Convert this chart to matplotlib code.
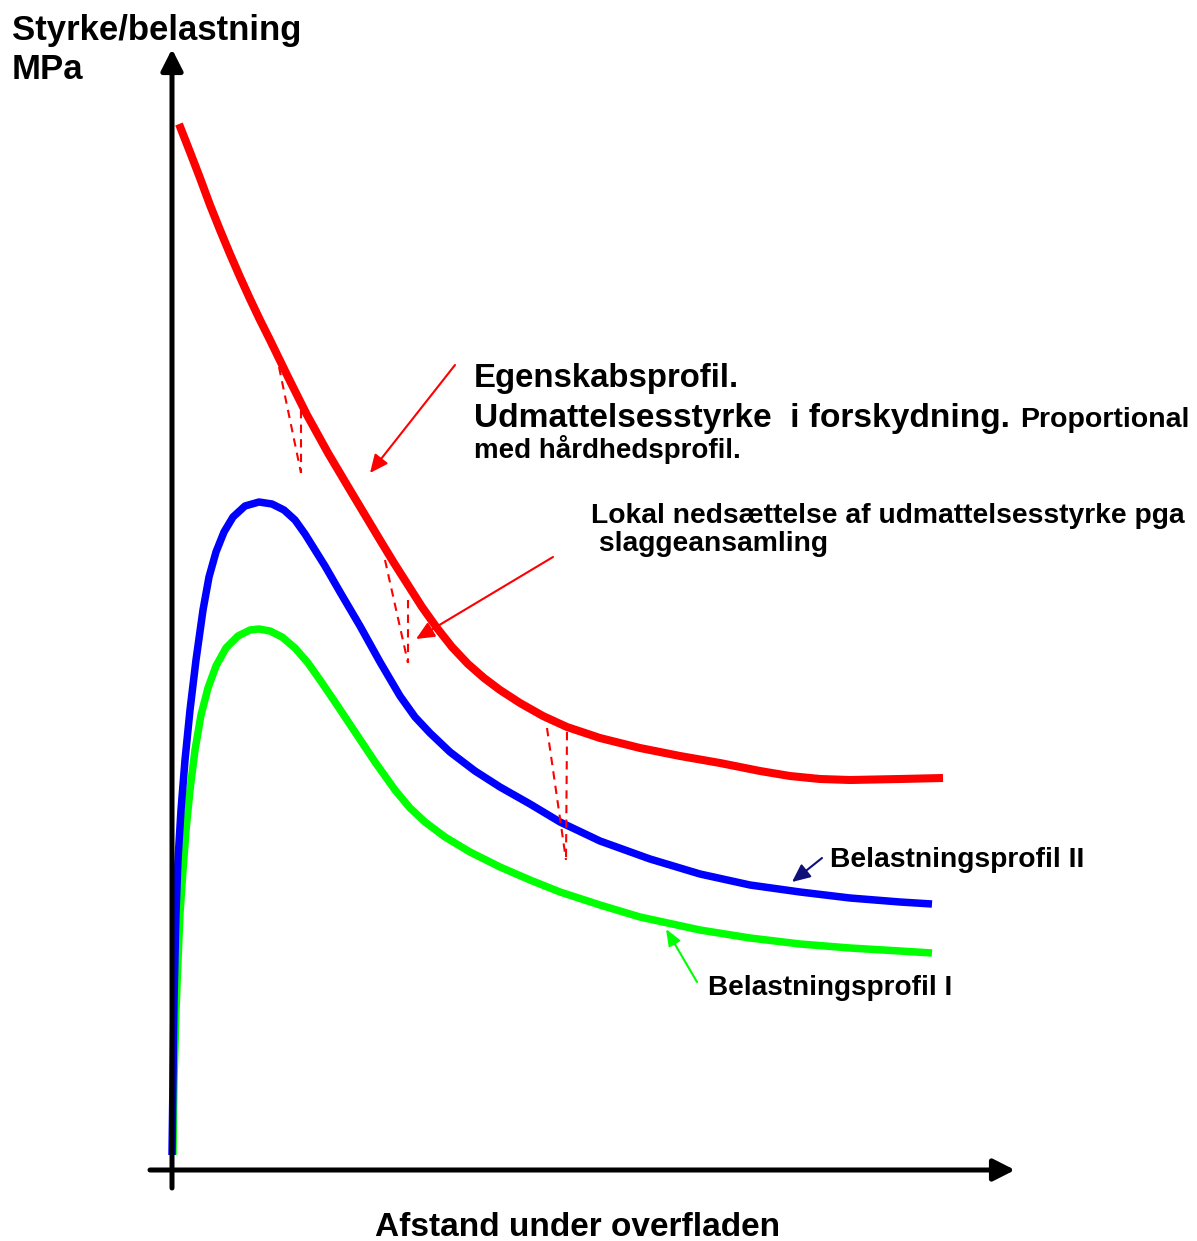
"""Sketch: strength profile vs load profiles below the surface (Danish labels).
Coordinates are read off the reference picture in pixel units (y grows downward)."""
import matplotlib; matplotlib.use("Agg")
import matplotlib.pyplot as plt

# --- curves (x, y in px) ---
red_x = [179, 190, 200, 210, 220, 230, 240, 250, 260, 270, 288, 307, 328, 350, 365, 380,
         394, 408, 422, 437, 452, 468, 484, 500, 520, 543, 567, 600, 640, 680, 720, 760,
         790, 820, 850, 900, 943]
red_y = [124, 152, 178, 205, 230, 254, 277, 299, 320, 340, 377, 415, 453, 490, 515, 540,
         563, 585, 607, 628, 647, 664, 678, 690, 703, 716, 727, 738, 748, 756, 763, 771,
         776, 779, 780, 779, 778]

blue_x = [172, 173, 174, 176, 178, 181, 185, 190, 196, 203, 209, 216, 224, 233, 245, 259,
          272, 284, 295, 305, 315, 325, 340, 360, 380, 400, 415, 430, 450, 475, 500, 530,
          560, 600, 650, 700, 750, 800, 850, 900, 932]
blue_y = [1155, 1080, 1000, 913, 860, 810, 760, 710, 660, 610, 577, 552, 532, 517, 506, 502,
          504, 510, 520, 534, 550, 566, 592, 626, 662, 696, 717, 733, 752, 771, 787, 804,
          822, 841, 859, 874, 885, 892, 898, 902, 904]

green_x = [173, 174, 176, 178, 180, 183, 186, 190, 195, 201, 208, 216, 226, 238, 250, 259,
           270, 282, 295, 308, 320, 335, 355, 375, 395, 410, 425, 445, 470, 500, 530, 560,
           600, 640, 700, 750, 800, 850, 900, 932]
green_y = [1155, 1080, 1010, 960, 913, 870, 830, 790, 750, 715, 688, 666, 648, 636, 630, 629,
           631, 637, 648, 663, 680, 702, 732, 762, 790, 808, 822, 837, 852, 867, 880, 892,
           905, 917, 930, 938, 944, 948, 951, 953]

# local reductions (dashed V notches): start on curve, second start, common tip
notch_a = [(279, 367), (385, 560), (547, 728)]
notch_b = [(301, 410), (408, 600), (567, 732)]
notch_tip = [(301, 473), (408, 663), (566, 860)]

RED, BLUE, GREEN = "#ff0000", "#0000ff", "#00ff00"
FONT = "Liberation Sans"

fig = plt.figure(figsize=(11.97, 12.41), dpi=100)
ax = fig.add_axes([0, 0, 1, 1])
ax.set_xlim(0, 1197)
ax.set_ylim(1241, 0)
ax.axis("off")

# axes with arrowheads
ax_head = "-|>,head_length=0.65,head_width=0.33"
ax.annotate("", xy=(172, 49), xytext=(172, 1188),
            arrowprops=dict(arrowstyle=ax_head, mutation_scale=20, lw=3.6, color="black",
                            shrinkA=0, shrinkB=0))
ax.annotate("", xy=(1015, 1170), xytext=(150, 1170),
            arrowprops=dict(arrowstyle=ax_head, mutation_scale=20, lw=3.6, color="black",
                            shrinkA=0, shrinkB=0))

# profiles
lw = 5.4
ax.plot(green_x, green_y, color=GREEN, lw=lw, solid_joinstyle="round", solid_capstyle="butt")
ax.plot(blue_x, blue_y, color=BLUE, lw=lw, solid_joinstyle="round", solid_capstyle="butt")
ax.plot(red_x, red_y, color=RED, lw=lw + 0.4, solid_joinstyle="round", solid_capstyle="butt")

for a, b, t in zip(notch_a, notch_b, notch_tip):
    for s in (a, b):
        ax.plot([s[0], t[0]], [s[1], t[1]], color=RED, lw=1.5, dashes=(4, 3))

# pointer arrows
def pointer(tip, tail, col, hl=0.55, hw=0.25):
    ax.annotate("", xy=tip, xytext=tail,
                arrowprops=dict(arrowstyle=f"-|>,head_length={hl},head_width={hw}",
                                mutation_scale=20, lw=1.5, color=col, shrinkA=0, shrinkB=0))

pointer((370, 473), (455, 365), RED)
pointer((416, 639), (553, 557), RED)
pointer((792, 882), (822, 858), "#10107a")
pointer((666, 929), (697, 982), GREEN, hl=0.5, hw=0.2)

# texts
def label(x, y, s, size):
    ax.text(x, y, s, fontsize=size, fontweight="bold", family=FONT, ha="left", va="baseline")

label(12, 40, "Styrke/belastning", 25)
label(12, 79, "MPa", 25)
label(474, 387, "Egenskabsprofil.", 23.7)
label(474, 427, "Udmattelsesstyrke  i forskydning.", 24.1)
label(1020, 427, "Proportional", 20.5)
label(474, 458, "med hårdhedsprofil.", 20)
label(591, 523, "Lokal nedsættelse af udmattelsesstyrke pga", 20.3)
label(591, 551, " slaggeansamling", 20.3)
label(830, 867, "Belastningsprofil II", 20.3)
label(708, 995, "Belastningsprofil I", 20.1)
ax.text(578, 1236, "Afstand under overfladen", fontsize=24, fontweight="bold", family=FONT,
        ha="center", va="baseline")

fig.savefig("out.png", dpi=100)
